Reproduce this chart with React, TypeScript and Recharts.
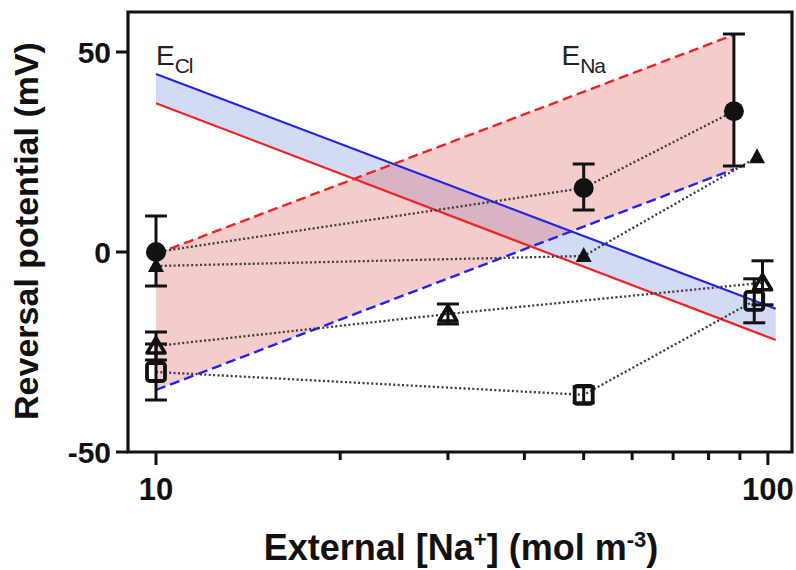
import { ComposedChart, XAxis, YAxis, Line, Area, Scatter, ErrorBar, ReferenceArea, ReferenceDot } from "recharts";

const FONT = "'Liberation Sans', Arial, Helvetica, sans-serif";
const INK = "#111";

// Nernst potentials (mV) at the two ends of each drawn range
const naEnds = [10, 88];
const eNaUpper = [-0.5, 54.3];
const eNaLower = [-34.5, 20.7];
const clEnds = [10, 103];
const eClUpper = [44.5, -14.2];
const eClLower = [37.2, -22];

// measured reversal potentials, err = [below, above]
const circleX = [10, 50, 88];
const circleY = [0, 16, 35.2];
const circleErr = [[8.5, 9], [5.5, 6], [13.7, 19.3]];
const filledTriX = [10, 50, 96];
const filledTriY = [-3.5, -1, 23.7];
const openTriX = [10, 30, 98];
const openTriY = [-23.5, -15.5, -7.7];
const openTriErr = [[3.5, 3.5], [2.5, 2.5], [5.5, 5.5]];
const squareX = [10, 50, 95];
const squareY = [-30, -35.7, -12.2];
const squareErr = [[7, 7], [2, 2], [5.5, 5.5]];

const xTicks = [10, 20, 30, 40, 50, 60, 70, 80, 90, 100];
const xLabelled = [10, 100];
const yTicks = [-50, 0, 50];

const pts = (xs: number[], ys: number[], errs?: number[][]) =>
  xs.map((x, i) => ({ x, y: ys[i], err: errs ? errs[i] : [0, 0] }));
const band = (xs: number[], lo: number[], hi: number[]) => xs.map((x, i) => ({ x, range: [lo[i], hi[i]] }));

const naBand = band(naEnds, eNaLower, eNaUpper);
const clBand = band(clEnds, eClLower, eClUpper);

const XTick = (p: any) => {
  const v = p.payload.value;
  const major = xLabelled.includes(v);
  return (
    <g>
      <line x1={p.x} x2={p.x} y1={p.y} y2={p.y + (major ? 13 : 8)} stroke={INK} strokeWidth={3} />
      {major && (
        <text x={p.x} y={p.y + 48} textAnchor="middle" fontSize={31} fontWeight="bold" fontFamily={FONT} fill={INK}>
          {v}
        </text>
      )}
    </g>
  );
};

const Dot = (p: any) => <circle cx={p.cx} cy={p.cy} r={10} fill={INK} />;
const FilledTri = (p: any) => (
  <path d={`M${p.cx},${p.cy - 9}L${p.cx + 8},${p.cy + 6}L${p.cx - 8},${p.cy + 6}Z`} fill={INK} />
);
const OpenTri = (p: any) => (
  <path d={`M${p.cx},${p.cy - 8}L${p.cx + 9},${p.cy + 7}L${p.cx - 9},${p.cy + 7}Z`} fill="none" stroke={INK} strokeWidth={3.6} strokeLinejoin="round" />
);
const OpenSquare = (p: any) => (
  <rect x={p.cx - 9} y={p.cy - 9} width={18} height={18} rx={2.5} fill="none" stroke={INK} strokeWidth={3.8} />
);

const ionLabel = (ion: string) => (p: any) => (
  <text x={p.cx} y={p.cy} fontFamily={FONT} fill="#222">
    <tspan fontSize={28}>E</tspan>
    <tspan fontSize={21} dy={8} letterSpacing={-1}>{ion}</tspan>
  </text>
);

const dotted = { stroke: "#3a3a3a", strokeWidth: 2.3, strokeDasharray: "2 2.4" };

export default function App() {
  return (
    <div style={{ position: "absolute", left: 0, top: 0, background: "#fff" }}>
      <ComposedChart width={796} height={570} margin={{ top: 12, right: 4, bottom: 0, left: 0 }}>
        <XAxis
          dataKey="x"
          type="number"
          scale="log"
          domain={[9, 109.5]}
          allowDataOverflow
          ticks={xTicks}
          interval={0}
          height={118}
          axisLine={false}
          tickLine={false}
          tickSize={0}
          tickMargin={0}
          tick={<XTick />}
          label={{
            content: () => (
              <text x={461} y={560} textAnchor="middle" fontSize={36} fontWeight="bold" fontFamily={FONT} fill={INK}>
                External [Na
                <tspan fontSize={22} dy={-13}>+</tspan>
                <tspan dy={13}>] (mol m</tspan>
                <tspan fontSize={22} dy={-13}>-3</tspan>
                <tspan dy={13}>)</tspan>
              </text>
            ),
          }}
        />
        <YAxis
          type="number"
          domain={[-50, 60]}
          allowDataOverflow
          ticks={yTicks}
          width={128}
          axisLine={false}
          tickSize={12}
          tickMargin={5}
          tickLine={{ stroke: INK, strokeWidth: 3 }}
          tick={{ fontSize: 30, fontWeight: "bold", fontFamily: FONT, fill: INK }}
          label={{
            content: () => (
              <text transform="translate(38, 231) rotate(-90)" textAnchor="middle" fontSize={34} fontWeight="bold" fontFamily={FONT} fill={INK}>
                Reversal potential (mV)
              </text>
            ),
          }}
        />

        <Area data={clBand} dataKey="range" type="linear" stroke="none" fill="#6d84d6" fillOpacity={0.3} isAnimationActive={false} />
        <Area data={naBand} dataKey="range" type="linear" stroke="none" fill="#e06060" fillOpacity={0.32} isAnimationActive={false} />

        <Line data={pts(clEnds, eClUpper)} dataKey="y" stroke="#2323e6" strokeWidth={2.2} dot={false} isAnimationActive={false} />
        <Line data={pts(clEnds, eClLower)} dataKey="y" stroke="#ec2424" strokeWidth={2.2} dot={false} isAnimationActive={false} />
        <Line data={pts(naEnds, eNaUpper)} dataKey="y" stroke="#ec2424" strokeWidth={2.4} strokeDasharray="10 5" dot={false} isAnimationActive={false} />
        <Line data={pts(naEnds, eNaLower)} dataKey="y" stroke="#2323e6" strokeWidth={2.4} strokeDasharray="10 5" dot={false} isAnimationActive={false} />

        <Line data={pts(circleX, circleY)} dataKey="y" {...dotted} dot={false} isAnimationActive={false} />
        <Line data={pts(filledTriX, filledTriY)} dataKey="y" {...dotted} dot={false} isAnimationActive={false} />
        <Line data={pts(openTriX, openTriY)} dataKey="y" {...dotted} dot={false} isAnimationActive={false} />
        <Line data={pts(squareX, squareY)} dataKey="y" {...dotted} dot={false} isAnimationActive={false} />

        <Scatter data={pts(squareX, squareY, squareErr)} dataKey="y" shape={OpenSquare} isAnimationActive={false}>
          <ErrorBar dataKey="err" direction="y" width={11} stroke={INK} strokeWidth={3} />
        </Scatter>
        <Scatter data={pts(openTriX, openTriY, openTriErr)} dataKey="y" shape={OpenTri} isAnimationActive={false}>
          <ErrorBar dataKey="err" direction="y" width={11} stroke={INK} strokeWidth={3} />
        </Scatter>
        <Scatter data={pts(filledTriX, filledTriY)} dataKey="y" shape={FilledTri} isAnimationActive={false} />
        <Scatter data={pts(circleX, circleY, circleErr)} dataKey="y" shape={Dot} isAnimationActive={false}>
          <ErrorBar dataKey="err" direction="y" width={11} stroke={INK} strokeWidth={3} />
        </Scatter>

        <ReferenceDot x={10} y={46.7} r={0} shape={ionLabel("Cl")} />
        <ReferenceDot x={46} y={46.7} r={0} shape={ionLabel("Na")} />

        <ReferenceArea x1={9} x2={109.5} y1={-50} y2={60} fill="none" stroke={INK} strokeWidth={3.2} />
      </ComposedChart>
    </div>
  );
}
